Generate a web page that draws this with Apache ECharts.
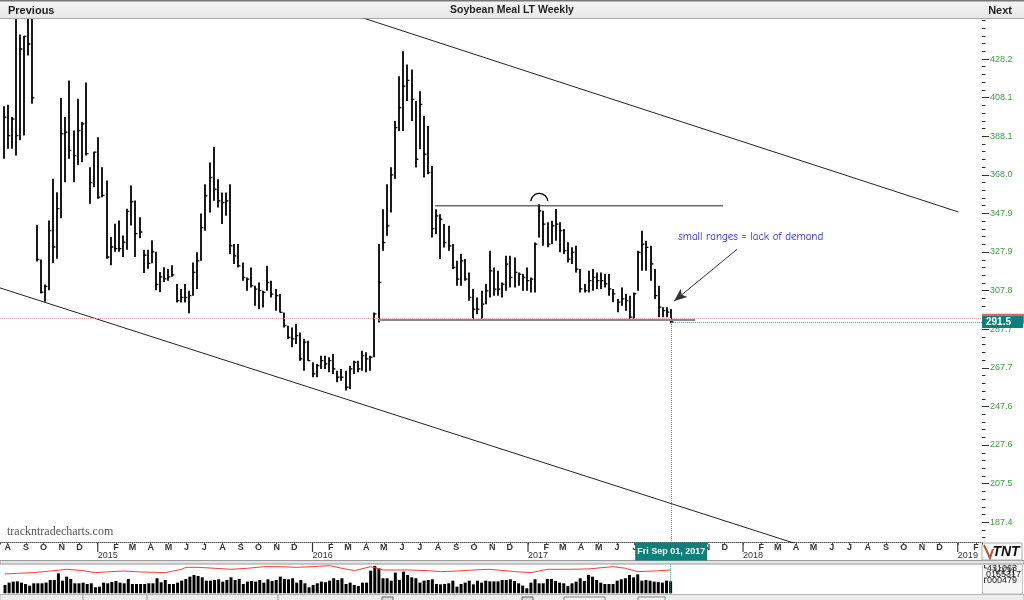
<!DOCTYPE html>
<html><head><meta charset="utf-8">
<script src="https://cdn.jsdelivr.net/npm/echarts@6/dist/echarts.min.js"></script>
<style>html,body{margin:0;padding:0;background:#fff;}#c{width:1024px;height:600px;}</style>
</head><body><div id="c"></div>
<script>
// ---------- DATA ----------
const firstWeek = '2014-07-25';   // first weekly bar (Friday)
const high = [403.7,404.4,398,458,441,440.3,460,455,342,324,
311,344.3,366,359,408,398,417,391,407.5,395.4,
416,372,380,387.6,372,365,335.7,342.6,344.3,336.5,
350.4,362.5,354.7,346,329,329,334,328,317.5,320,
319,321,311.2,308.6,311.2,307.8,322.5,327.7,347.9,363.1,
374.4,382.5,365.7,358.8,358.8,363.1,332,332,322.5,314.7,
319.9,310.4,312.1,307.8,320.7,313,308.6,306,296.5,289.6,
288.7,290.5,286.1,282.7,281.8,270.6,269.7,274,274,273.2,
274.9,266.2,267.1,266.2,268.8,271.4,271.4,276.6,275.8,274,
296.5,332,350.1,363.1,372,396,419.3,432.3,425.4,422.8,
406.4,411.5,398.6,393.4,372.6,350.1,347.5,342.4,341.5,332,
323.3,326.8,324.2,317.3,308.6,304.3,307.7,311.2,328.5,319.9,
318.1,312,325.9,325.9,325,317.3,316.4,319.9,314.7,332.8,
352.7,349.3,343.3,344.1,350.2,343.3,339.8,332.9,330.3,331.2,
319,311.3,318.2,319,317.3,317.3,316.5,316.5,308.7,303.5,
309.5,306.1,305.2,306.9,328.6,338.9,333.8,331.2,319,310.4,
299.2,299.2,298.3];
const low = [376.3,381.5,381.5,378,386,388.4,430,405,323,306.3,
302,308,322,324.4,345.5,364.2,376.3,364.2,373,374.6,
378,353,361.6,355.6,356.4,324.4,321,328,328,325.3,
329,341.7,325.3,335,317,319.2,322,308,307,312.3,
313,315,301.7,301.7,301.7,296,305.2,308.6,323.3,338.9,
348.4,354.5,351,342.4,346.7,326.8,321.6,319.9,313,307.8,
309.5,300,298.3,299.1,307.8,304.3,297.4,296.5,288.7,282.7,
278.4,280.1,271.4,266.2,271.4,262.8,262.8,267.1,267.1,265.4,
264.5,260.2,261,255.9,256.7,264.5,265.4,266.2,265.4,266.2,
273.2,291.3,328.5,336.3,348.4,366,390.8,390.8,406.4,396,
371.8,381.3,366.6,368.3,335.4,337.2,324.2,330.2,328.5,319,
310.4,310.4,313,302.6,293,295.6,293,300.8,304.3,305.2,
305.2,304.3,307.7,309.5,309.5,310.4,307.7,307.7,306.9,306.9,
335.4,331.2,330.3,332,333.8,327.7,326.8,322.5,321.7,317.3,
306.9,306.9,306.9,307.8,308.7,308.7,309.5,305.2,301.8,296.6,
300,297.4,292.2,292.2,307.8,318.2,318.2,313,303.5,294,
294,294,290.8];
const close = [398,388.4,397,388.4,433.4,440,436,408,324,307,
310,339,330.5,350.4,389.3,390.2,380.7,378,391,394.5,
379,364,379.8,356.4,357.3,325.3,330.5,329.6,329.6,333,
349,354,337.4,338.3,326.2,322,328,311,315,314,
315,316,302.6,304.3,304.3,305.2,317.3,323.3,340.6,357.1,
366.6,360.5,354.5,353.6,354.5,331.1,325.9,320.7,314.7,313.8,
310.4,308.6,307.8,306.9,312.1,306,305.2,296.5,289.6,283.5,
282.7,284.4,272.3,281,271.4,264.5,268.8,271.4,269.7,271.4,
267.1,262.8,262.8,257.6,267.1,270.6,267.1,274,272.3,273.2,
295.7,312.1,332.8,341.5,368,392.5,402.9,414.1,417.1,407.2,
376.1,404.6,378.7,369.2,340,346.7,345,332.8,331.1,319.9,
313.8,323.3,313.8,304.3,298.2,298.2,300.8,307.7,318.1,308.6,
308.6,311.2,321.6,314.7,317.3,316.4,314.7,313,313.8,332,
349.3,342.4,332,341.5,342.4,339,328.6,324.2,327.7,319,
308.7,307.8,313,314.7,313,313,311.3,308.7,306.1,301.8,
303.5,302.6,294,306.1,327.7,332,330.3,321.7,305.2,299.2,
297.4,296.6,291.5];
// weekly volume, thousands of contracts
const volumeK = [123,157,172,176,157,137,113,147,147,147,
157,196,196,294,186,245,211,147,147,157,
137,147,88,98,157,147,167,181,157,147,
211,137,137,137,137,147,147,221,162,196,
137,137,157,186,211,245,270,255,235,186,
186,196,206,172,196,235,196,211,137,172,
181,172,196,157,206,181,196,245,211,206,
221,157,196,147,88,123,147,172,162,186,221,196,
221,137,157,123,108,157,157,333,402,368,
221,221,186,304,196,319,270,235,221,157,
186,196,206,137,132,137,147,186,98,137,
157,186,132,186,157,186,176,176,176,196,
196,206,181,147,113,74,157,206,147,147,
211,211,181,157,147,108,147,172,221,181,
270,245,196,157,137,137,137,186,206,221,
270,235,279,186,196,186,172,167,157,186,176];
// open interest (red line), thousands, sampled at these week numbers
const oiWeek = [1,4,8,12,16,20,23,27,30,34,37,40,44,45,48,52,56,60,64,68,72,76,80,83,86,90,93,99,104,107,111,115,119,125,129,133,138,143,149,152,155,159,163];
const oiK = [284,294,304,328,353,333,304,319,328,314,309,304,353,382,382,368,353,368,392,392,382,392,407,368,333,392,343,343,333,319,328,343,353,319,304,353,353,358,392,368,319,328,343];
const priceTicks = [187.4,207.5,227.6,247.6,267.7,287.7,307.8,327.9,347.9,368.0,388.1,408.1,428.2];
const lastPrice = 291.5;
const prevLevel = 293.2;
const volTopK = 431;
const volLabels = ['431063','0155317','000479'];
// drawn annotations (date, price)
const upperTrend = [['2016-03-17',450.5],['2019-01-02',348.7]];
const lowerTrend = [['2014-07-01',311.0],['2018-04-17',174.7]];
const resistance = [['2016-07-27',351.9],['2017-11-28',351.9]];
const support = [['2016-04-22',292.5],['2017-10-12',292.5]];
const arrowLine = [['2017-12-22',329.3],['2017-09-06',302.4]];
const arcMark = ['2017-01-20',354.5];
const note = ['2017-09-13',335.7,'small ranges = lack of demand'];
const xRange = ['2014-07-19','2019-02-11'];
const yRange = [176.9,449.0];

// ---------- BUILD ----------
const DAY = 864e5;
const toT = s => { const a = s.split('-').map(Number); return Date.UTC(a[0], a[1]-1, a[2]); };
const t0 = toT(firstWeek);
const weekT = high.map((_, i) => t0 + i * 7 * DAY);
const lastT = weekT[weekT.length - 1];
const xMin = toT(xRange[0]), xMax = toT(xRange[1]);
const pts = arr => arr.map(p => [toT(p[0]), p[1]]);
const NARROW = "'Liberation Sans Narrow','Arial Narrow','Liberation Sans',sans-serif";
const MONTHS = 'JFMAMJJASOND';
const dn = ['Sun','Mon','Tue','Wed','Thu','Fri','Sat'];
const mn = ['Jan','Feb','Mar','Apr','May','Jun','Jul','Aug','Sep','Oct','Nov','Dec'];
const ld = new Date(lastT);
const lastLabel = dn[ld.getUTCDay()] + ' ' + mn[ld.getUTCMonth()] + ' ' + String(ld.getUTCDate()).padStart(2,'0') + ', ' + ld.getUTCFullYear();

const step = (priceTicks[priceTicks.length-1] - priceTicks[0]) / (priceTicks.length - 1) / 5;
const minorTicks = [];
for (let v = priceTicks[0] - 2 * step; v <= yRange[1]; v += step) minorTicks.push(+v.toFixed(3));

const chart = echarts.init(document.getElementById('c'));
const CYAN = '#2aa5a5', TEAL = '#0f7f7b';

chart.setOption({
  animation: false,
  useUTC: true,
  backgroundColor: '#ffffff',
  title: { text: 'Soybean Meal LT Weekly', left: 'center', top: 5, padding: 0,
    textStyle: { fontSize: 10.5, fontWeight: 'bold', fontFamily: NARROW, color: '#222' } },
  grid: [
    { left: 0, right: 42, top: 19, height: 523.5, containLabel: false, outerBoundsMode: 'none' },
    { left: 0, right: 42, top: 564, height: 29.3, containLabel: false, outerBoundsMode: 'none' }
  ],
  xAxis: [
    { type: 'time', gridIndex: 0, position: 'bottom', min: xMin, max: xMax,
      minInterval: 28 * DAY, maxInterval: 31 * DAY,
      axisLine: { show: true, onZero: false, lineStyle: { color: '#555', type: 'dotted', width: 1 } },
      axisTick: { show: true, length: 2, lineStyle: { color: '#555' } },
      splitLine: { show: false },
      axisLabel: { show: true, interval: 0, hideOverlap: false, showMinLabel: true, showMaxLabel: true,
        margin: 1, fontSize: 9, fontWeight: 'bold', color: '#333', fontFamily: NARROW,
        formatter: v => { const d = new Date(v); if (d.getUTCDate() !== 1) return ''; const m = d.getUTCMonth(); return m === 0 ? '|' : MONTHS[m]; } } },
    { type: 'time', gridIndex: 0, position: 'bottom', offset: 8, min: xMin, max: xMax,
      minInterval: 28 * DAY, maxInterval: 31 * DAY,
      axisLine: { show: false }, axisTick: { show: false }, splitLine: { show: false },
      axisLabel: { show: true, interval: 0, hideOverlap: false, showMinLabel: true, showMaxLabel: true,
        margin: 1, fontSize: 9, color: '#333', fontFamily: NARROW, align: 'left',
        formatter: v => { const d = new Date(v); return (d.getUTCDate() === 1 && d.getUTCMonth() === 0) ? String(d.getUTCFullYear()) : ''; } } },
    { type: 'time', gridIndex: 1, min: xMin, max: xMax, show: false }
  ],
  yAxis: [
    { type: 'value', gridIndex: 0, position: 'right', min: yRange[0], max: yRange[1],
      axisLine: { show: false }, splitLine: { show: false },
      axisTick: { show: true, customValues: priceTicks, length: 7, lineStyle: { color: '#333' } },
      axisLabel: { show: true, customValues: priceTicks, margin: 8, fontSize: 9, color: '#3f9e3f', fontFamily: NARROW,
        formatter: v => v.toFixed(1) } },
    { type: 'value', gridIndex: 0, position: 'right', min: yRange[0], max: yRange[1],
      axisLine: { show: false }, splitLine: { show: false }, axisLabel: { show: false },
      axisTick: { show: true, customValues: minorTicks, length: 3.5, lineStyle: { color: '#333' } } },
    { type: 'value', gridIndex: 1, min: 0, max: volTopK, show: false }
  ],
  series: [
    { type: 'custom', name: 'Soybean Meal', xAxisIndex: 0, yAxisIndex: 0, clip: true,
      data: weekT.map((t, i) => [t, high[i], low[i], close[i]]),
      encode: { x: 0, y: [1, 2, 3] },
      renderItem: (params, api) => {
        const x = api.value(0);
        const pH = api.coord([x, api.value(1)]);
        const pL = api.coord([x, api.value(2)]);
        const pC = api.coord([x, api.value(3)]);
        const px = Math.round(pH[0]);
        return { type: 'group', children: [
          { type: 'line', shape: { x1: px, y1: pH[1], x2: px, y2: pL[1] }, style: { stroke: '#000', lineWidth: 1.8 } },
          { type: 'line', shape: { x1: px, y1: pC[1], x2: px + 2.4, y2: pC[1] }, style: { stroke: '#000', lineWidth: 1.3 } }
        ] };
      } },
    { type: 'line', name: 'upper channel', xAxisIndex: 0, yAxisIndex: 0, data: pts(upperTrend), symbol: 'none', clip: true,
      lineStyle: { color: '#222', width: 1 }, silent: true },
    { type: 'line', name: 'lower channel', xAxisIndex: 0, yAxisIndex: 0, data: pts(lowerTrend), symbol: 'none', clip: true,
      lineStyle: { color: '#222', width: 1 }, silent: true },
    { type: 'line', name: 'support', xAxisIndex: 0, yAxisIndex: 0, data: pts(support), symbol: 'none', clip: true,
      lineStyle: { color: '#8a8a8a', width: 2 }, silent: true },
    { type: 'line', name: 'resistance', xAxisIndex: 0, yAxisIndex: 0, data: pts(resistance), symbol: 'none', clip: false,
      lineStyle: { color: '#222', width: 1 }, silent: true,
      markLine: { silent: true, symbol: 'none', animation: false, precision: 1,
        data: [
          [ { coord: [xMin, prevLevel], lineStyle: { color: '#f5a3a3', type: 'dotted', width: 1 },
              label: { show: true, position: 'end', distance: 0, formatter: ' ', fontSize: 8, lineHeight: 8,
                backgroundColor: '#e06363', padding: [1, 20] } },
            { coord: [xMax, prevLevel] } ],
          [ { coord: [lastT, lastPrice], lineStyle: { color: CYAN, type: 'dotted', width: 1 },
              label: { show: true, position: 'end', distance: 0, formatter: lastPrice.toFixed(1), fontSize: 10, fontWeight: 'bold',
                fontFamily: NARROW, color: '#fff', backgroundColor: TEAL, padding: [1, 12, 0, 4], lineHeight: 11 } },
            { coord: [xMax, lastPrice] } ],
          [ { coord: [lastT, lastPrice], lineStyle: { color: CYAN, type: 'dotted', width: 1 },
              label: { show: true, position: 'end', distance: 0, formatter: lastLabel, fontSize: 9, fontWeight: 'bold',
                fontFamily: NARROW, color: '#fff', backgroundColor: TEAL, padding: [4, 2, 4, 2], lineHeight: 10 } },
            { coord: [lastT, yRange[0]] } ],
          [ { coord: [toT(arrowLine[0][0]), arrowLine[0][1]], symbol: 'none', lineStyle: { color: '#333', width: 1, type: 'solid' }, label: { show: false } },
            { coord: [toT(arrowLine[1][0]), arrowLine[1][1]], symbol: 'arrow', symbolSize: [8, 13] } ]
        ] } },
    { type: 'custom', name: 'arc', xAxisIndex: 0, yAxisIndex: 0, clip: false, silent: true,
      data: [[toT(arcMark[0]), arcMark[1]]],
      renderItem: (params, api) => {
        const p = api.coord([api.value(0), api.value(1)]);
        return { type: 'arc', shape: { cx: p[0], cy: p[1] + 1, r: 8.5, startAngle: Math.PI * 1.02, endAngle: Math.PI * 1.98, clockwise: true },
          style: { stroke: '#000', lineWidth: 1.3, fill: null } };
      } },
    { type: 'custom', name: 'note', xAxisIndex: 0, yAxisIndex: 0, clip: false, silent: true,
      data: [[toT(note[0]), note[1]]],
      renderItem: (params, api) => {
        const p = api.coord([api.value(0), api.value(1)]);
        return { type: 'text', x: p[0], y: p[1],
          style: { text: note[2], fill: '#1f1fff', font: "11px 'Comic Sans MS','Comic Neue','DejaVu Sans',sans-serif", align: 'left', verticalAlign: 'middle' } };
      } },
    { type: 'bar', name: 'Volume', xAxisIndex: 2, yAxisIndex: 2, barWidth: 3,
      data: weekT.map((t, i) => [t, volumeK[i]]), itemStyle: { color: '#000' }, silent: true,
      markLine: { silent: true, symbol: 'none', label: { show: false },
        lineStyle: { color: CYAN, type: 'dotted', width: 1 }, data: [ { xAxis: lastT } ] } },
    { type: 'line', name: 'Open interest', xAxisIndex: 2, yAxisIndex: 2, symbol: 'none', silent: true,
      data: oiWeek.map((k, i) => [weekT[k - 1], oiK[i]]), lineStyle: { color: '#ff3c3c', width: 1 } }
  ],
  graphic: [
    { type: 'rect', z: -10, shape: { x: 0, y: 0, width: 1024, height: 19 },
      style: { fill: new echarts.graphic.LinearGradient(0, 0, 0, 1, [{ offset: 0, color: '#f7f7f7' }, { offset: 1, color: '#e6e6e6' }]) } },
    { type: 'line', shape: { x1: 0, y1: 0.75, x2: 1024, y2: 0.75 }, style: { stroke: '#777', lineWidth: 1.5 } },
    { type: 'line', shape: { x1: 0, y1: 18.5, x2: 1024, y2: 18.5 }, style: { stroke: '#a8a8a8', lineWidth: 1 } },
    { type: 'text', x: 8, y: 11, style: { text: 'Previous', font: 'bold 11px ' + NARROW, fill: '#222', align: 'left', verticalAlign: 'middle' } },
    { type: 'text', x: 1012, y: 11, style: { text: 'Next', font: 'bold 11px ' + NARROW, fill: '#222', align: 'right', verticalAlign: 'middle' } },
    { type: 'text', x: 7, y: 532, style: { text: 'trackntradecharts.com', font: "12px 'Liberation Serif',serif", fill: '#555', align: 'left', verticalAlign: 'middle' } },
    // separator between price panel and volume panel
    { type: 'rect', shape: { x: 0, y: 560.5, width: 1024, height: 3.5 }, style: { fill: '#e4e4e4', stroke: '#9a9a9a', lineWidth: 1 } },
    // TNT logo
    { type: 'rect', shape: { x: 982, y: 543, width: 40, height: 17 }, style: { fill: '#fff', stroke: '#aaa', lineWidth: 1 } },
    { type: 'polyline', shape: { points: [[984, 545], [990, 558], [993, 549]] }, style: { stroke: '#c0502a', lineWidth: 2, fill: null } },
    { type: 'text', x: 1006, y: 552, style: { text: 'TNT', font: "italic 900 14px 'Liberation Sans Narrow','Liberation Sans',sans-serif", fill: '#111', align: 'center', verticalAlign: 'middle' } },
    // volume panel right box
    { type: 'rect', shape: { x: 982.5, y: 564.5, width: 40, height: 29.5 }, style: { fill: '#f5f5f5', stroke: '#c4c4c4', lineWidth: 1 } },
    { type: 'text', x: 1004, y: 572, style: { text: 'VOI', font: "13px 'Liberation Serif',serif", fill: '#444', align: 'center', verticalAlign: 'middle' } },
    { type: 'text', x: 987, y: 568.5, style: { text: volLabels[0], font: '9px ' + NARROW, fill: '#222', align: 'left', verticalAlign: 'middle' } },
    { type: 'text', x: 986, y: 575, style: { text: volLabels[1], font: '9px ' + NARROW, fill: '#222', align: 'left', verticalAlign: 'middle' } },
    { type: 'text', x: 987, y: 581, style: { text: volLabels[2], font: '9px ' + NARROW, fill: '#222', align: 'left', verticalAlign: 'middle' } },
    { type: 'polyline', shape: { points: [[984.5, 565], [984.5, 568], [987, 568]] }, style: { stroke: '#333', lineWidth: 1, fill: null } },
    { type: 'polyline', shape: { points: [[987, 578], [984.5, 578], [984.5, 583]] }, style: { stroke: '#333', lineWidth: 1, fill: null } },
    // bottom strip with tabs
    { type: 'rect', shape: { x: 0, y: 594.5, width: 1024, height: 6 }, style: { fill: '#ececec', stroke: '#b5b5b5', lineWidth: 1 } },
    { type: 'line', shape: { x1: 83, y1: 595, x2: 83, y2: 600 }, style: { stroke: '#999' } },
    { type: 'line', shape: { x1: 147, y1: 595, x2: 147, y2: 600 }, style: { stroke: '#999' } },
    { type: 'line', shape: { x1: 278, y1: 595, x2: 278, y2: 600 }, style: { stroke: '#999' } },
    { type: 'rect', shape: { x: 382, y: 597, width: 11, height: 4 }, style: { fill: '#ddd', stroke: '#666' } },
    { type: 'rect', shape: { x: 522, y: 597, width: 11, height: 4 }, style: { fill: '#ddd', stroke: '#666' } },
    { type: 'rect', shape: { x: 564, y: 597, width: 41, height: 4 }, style: { fill: '#f4f4f4', stroke: '#888' } },
    { type: 'rect', shape: { x: 638, y: 597, width: 27, height: 4 }, style: { fill: '#f4f4f4', stroke: '#888' } }
  ]
});
</script></body></html>
